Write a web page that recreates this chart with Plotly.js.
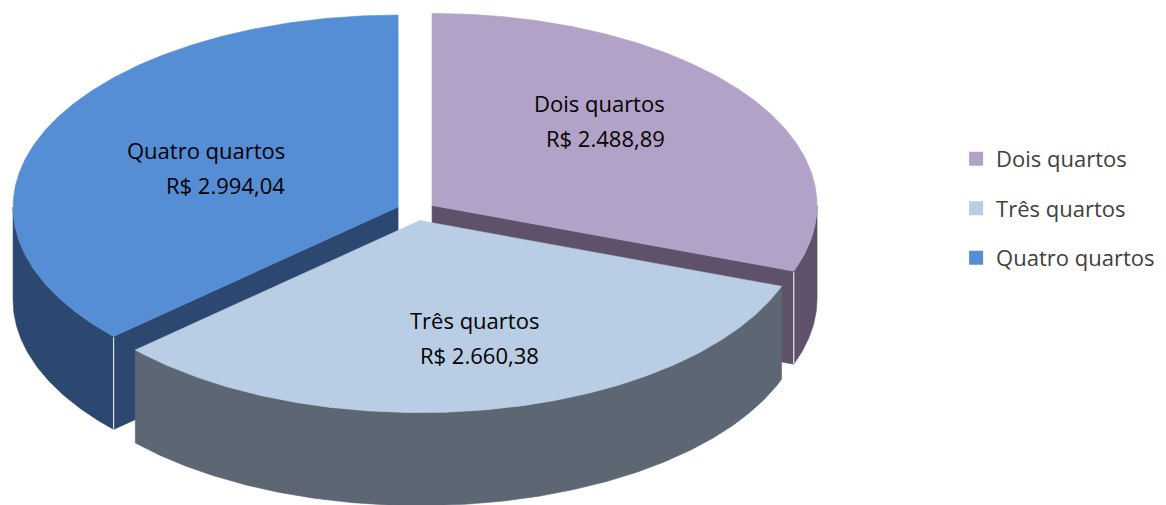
<!DOCTYPE html>
<html>
<head>
<meta charset="utf-8">
<script src="https://cdn.plot.ly/plotly-3.0.1.min.js"></script>
<style>html,body{margin:0;padding:0;background:#fff;}#chart{width:1166px;height:505px;}</style>
</head>
<body>
<div id="chart"></div>
<script>
const categories = ['Dois quartos', 'Três quartos', 'Quatro quartos'];
const values = [2488.89, 2660.38, 2994.04];
const valueLabels = ['R$ 2.488,89', 'R$ 2.660,38', 'R$ 2.994,04'];
const topColors = ['#B3A2C7', '#B9CDE5', '#558ED5'];
const sideColors = ['#5F5169', '#5D6774', '#2C4870'];

// Pie geometry (in axis units = pixels)
const geo = { cx: 416, cy: 211, rx: 385, ry: 192, explode: 19.6, depth: 93 };
const labelPos = [{ x: 667, y: 103 }, { x: 541, y: 320 }, { x: 287, y: 150 }];
const lineGap = 35;
const FONT = '"Open Sans", Lato, sans-serif';

const total = values.reduce((s, v) => s + v, 0);
const traces = [];
const slices = [];
let acc = 0;
values.forEach((v, i) => {
  const t0 = acc / total * 2 * Math.PI;
  acc += v;
  const t1 = acc / total * 2 * Math.PI;
  const mid = (t0 + t1) / 2;
  const c = {
    x: geo.cx + geo.explode * Math.sin(mid),
    y: geo.cy - geo.explode * Math.cos(mid) * geo.ry / geo.rx
  };
  slices.push({ t0, t1, c, i });
});

function pt(c, th, dz) {
  return [c.x + geo.rx * Math.sin(th), c.y - geo.ry * Math.cos(th) + (dz || 0)];
}
function arc(c, a, b, dz) {
  const n = Math.max(2, Math.ceil(Math.abs(b - a) / 0.01));
  const out = [];
  for (let k = 0; k <= n; k++) out.push(pt(c, a + (b - a) * k / n, dz));
  return out;
}
function poly(points, color, line) {
  const xs = points.map(p => p[0]);
  const ys = points.map(p => p[1]);
  xs.push(xs[0]); ys.push(ys[0]);
  return {
    type: 'scatter', mode: 'lines', x: xs, y: ys, fill: 'toself', fillcolor: color,
    line: line || { width: 0.6, color: color }, hoverinfo: 'skip', showlegend: false
  };
}

// radial faces
slices.forEach(s => {
  const faces = [];
  if (Math.sin(s.t1) > 1e-6) faces.push(s.t1);
  if (Math.sin(s.t0) < -1e-6) faces.push(s.t0);
  faces.forEach(th => {
    const p = pt(s.c, th);
    traces.push(poly([[s.c.x, s.c.y], p, [p[0], p[1] + geo.depth], [s.c.x, s.c.y + geo.depth]], sideColors[s.i]));
  });
});
// outer sides (front half only)
slices.forEach(s => {
  if (s.i === 1) return;
  const a = Math.max(s.t0, Math.PI / 2), b = Math.min(s.t1, 3 * Math.PI / 2);
  if (b <= a) return;
  traces.push(poly(arc(s.c, a, b, 0).concat(arc(s.c, b, a, geo.depth)), sideColors[s.i]));
});
// tops of back slices
slices.forEach(s => {
  if (s.i === 1) return;
  traces.push(poly([[s.c.x, s.c.y]].concat(arc(s.c, s.t0, s.t1, 0)), topColors[s.i]));
});
// front slice side + top
slices.filter(s => s.i === 1).forEach(s => {
  const a = Math.max(s.t0, Math.PI / 2), b = Math.min(s.t1, 3 * Math.PI / 2);
  traces.push(poly(arc(s.c, a, b, 0).concat(arc(s.c, b, a, geo.depth)), sideColors[s.i]));
  traces.push(poly([[s.c.x, s.c.y]].concat(arc(s.c, s.t0, s.t1, 0)), topColors[s.i]));
});
// light vertical edge highlights at visible corners
slices.forEach(s => {
  if (s.i === 1) return;
  [s.t0, s.t1].forEach(th => {
    if (th > Math.PI / 2 && th < 3 * Math.PI / 2) {
      const p = pt(s.c, th);
      traces.push({ type: 'scatter', mode: 'lines', x: [p[0], p[0]], y: [p[1] + 1, p[1] + geo.depth],
        line: { color: 'rgba(255,255,255,0.85)', width: 1.2 }, hoverinfo: 'skip', showlegend: false });
    }
  });
});
// legend entries
categories.forEach((name, i) => {
  traces.push({ type: 'scatter', mode: 'markers', x: [null], y: [null], name: name,
    legendgroup: 'g' + i,
    marker: { symbol: 'square', size: 14, color: topColors[i] }, showlegend: true, hoverinfo: 'skip' });
});

const annotations = [];
categories.forEach((name, i) => {
  const lp = labelPos[i];
  annotations.push({ x: lp.x, y: lp.y, xref: 'x', yref: 'y', text: name, showarrow: false,
    xanchor: 'right', yanchor: 'middle', font: { family: FONT, size: 22, color: '#000' } });
  annotations.push({ x: lp.x, y: lp.y + lineGap, xref: 'x', yref: 'y', text: valueLabels[i], showarrow: false,
    xanchor: 'right', yanchor: 'middle', font: { family: FONT, size: 22, color: '#000' } });
});

const layout = {
  width: 1166, height: 505,
  margin: { l: 0, r: 0, t: 0, b: 0 },
  paper_bgcolor: '#fff', plot_bgcolor: '#fff',
  xaxis: { range: [0, 1166], visible: false, fixedrange: true },
  yaxis: { range: [505, 0], visible: false, fixedrange: true },
  showlegend: true,
  legend: { x: 0.82, y: 0.727, xanchor: 'left', yanchor: 'top', bgcolor: 'rgba(0,0,0,0)',
    font: { family: FONT, size: 22, color: '#404040' }, tracegroupgap: 18, itemwidth: 30 },
  annotations: annotations,
  hovermode: false
};
Plotly.newPlot('chart', traces, layout, { staticPlot: true, displayModeBar: false });
</script>
</body>
</html>
